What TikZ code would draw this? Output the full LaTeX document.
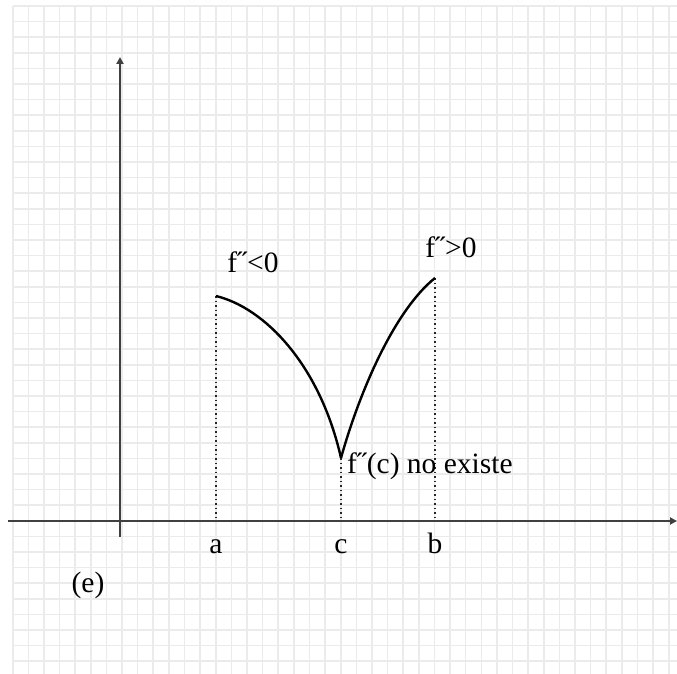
\documentclass[tikz,border=0pt]{standalone}
\usepackage{fontspec}
\setmainfont{Liberation Serif}
\usetikzlibrary{arrows.meta}
\begin{document}
\begin{tikzpicture}[x=1pt,y=-1pt,
  gridline/.style={draw=black!8,line width=1.6pt},
  axis/.style={draw=black!75,line width=1.8pt,-{Triangle[length=7pt,width=7pt]}},
  curve/.style={draw=black,line width=2.4pt},
  guide/.style={draw=black!85,line width=1.2pt,dash pattern=on 1.5pt off 3pt},
  lbl/.style={font=\fontsize{29.5}{34}\selectfont,inner sep=0pt}]
\useasboundingbox (0,0) rectangle (677,674);
\fill[white] (0,0) rectangle (677,674);
\foreach \k in {0,...,42} {
  \draw[gridline] ({12.7+15.62*\k},6) -- ({12.7+15.62*\k},674);
  \draw[gridline] (12.7,{6+15.6*\k}) -- (677,{6+15.6*\k});
}
\coordinate (xs) at (8,521);
\coordinate (xe) at (677,521);
\coordinate (ys) at (120,537);
\coordinate (ye) at (120,57);
\draw[axis] (xs) -- (xe);
\draw[axis] (ys) -- (ye);
\coordinate (A) at (216,296);
\coordinate (C) at (341,458);
\coordinate (B) at (435,278);
\coordinate (Aa) at (216,521);
\coordinate (Ca) at (341,521);
\coordinate (Ba) at (435,521);
\draw[guide] (A) -- (Aa);
\draw[guide] (C) -- (Ca);
\draw[guide] (B) -- (Ba);
\draw[curve] (A) .. controls (265,308) and (320,365) .. (C);
\draw[curve] (C) .. controls (360,390) and (395,310) .. (B);
\node[lbl,anchor=base] (la) at (216,553) {a};
\node[lbl,anchor=base] (lc) at (341,553) {c};
\node[lbl,anchor=base] (lb) at (435,553) {b};
\node[lbl] (l1) at (253,262) {f˝<0};
\node[lbl] (l2) at (451,247) {f˝>0};
\node[lbl,anchor=west] (l3) at (347,466) {f˝(c) no existe};
\node[lbl] (le) at (88,585) {(e)};
\end{tikzpicture}
\end{document}
